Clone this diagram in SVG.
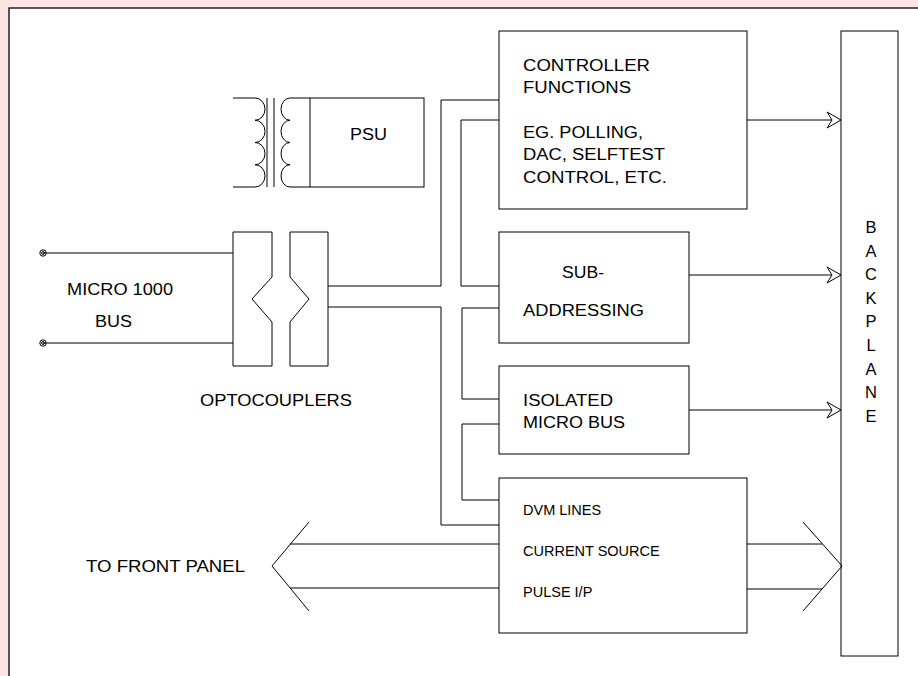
<svg xmlns="http://www.w3.org/2000/svg" width="918" height="676" viewBox="0 0 918 676">
<style>
.ln{fill:none;stroke:#000;stroke-width:1}
.bx{fill:#fff;stroke:#000;stroke-width:1}
.t{font-family:"Liberation Sans",Arial,sans-serif;font-size:16px;fill:#000}
.s{font-size:14.5px}
.bp{font-family:"Liberation Sans",Arial,sans-serif;font-size:16.5px;fill:#000;text-anchor:middle}
</style>
<defs>
<marker id="oa" markerUnits="userSpaceOnUse" markerWidth="18" markerHeight="20" refX="15" refY="9" orient="auto" viewBox="0 0 18 20">
<path d="M1,1 L15,9 L1,17 L6,9 Z" fill="#fff" stroke="#000" stroke-width="1"/>
</marker>
</defs>
<rect x="0" y="0" width="918" height="676" fill="#fde3e4"/>
<rect x="9" y="8" width="909" height="668" fill="#fff"/>
<path d="M9,676 V8 H918" fill="none" stroke="#222" stroke-width="1.5"/>

<g id="transformer">
<path class="ln" d="M233,98 H255 A10,11.125 0 0 1 255,120.25 A10,11.125 0 0 1 255,142.5 A10,11.125 0 0 1 255,164.75 A10,11.125 0 0 1 255,187 H233"/>
<line class="ln" x1="267" y1="98" x2="267" y2="187"/>
<line class="ln" x1="274" y1="98" x2="274" y2="187"/>
<path class="ln" d="M310,98 H290 A9,11.125 0 0 0 290,120.25 A9,11.125 0 0 0 290,142.5 A9,11.125 0 0 0 290,164.75 A9,11.125 0 0 0 290,187 H310"/>
</g>
<g id="psu">
<rect class="bx" x="310" y="98" width="114" height="89"/>
<text class="t" x="350" y="140" textLength="37" lengthAdjust="spacingAndGlyphs">PSU</text>
</g>

<g id="bus-input">
<circle cx="43" cy="253" r="3.2" class="ln"/><circle cx="43" cy="253" r="1.4" class="ln"/>
<circle cx="43" cy="343" r="3.2" class="ln"/><circle cx="43" cy="343" r="1.4" class="ln"/>
<text class="t" x="67" y="295" textLength="106" lengthAdjust="spacingAndGlyphs">MICRO 1000</text>
<text class="t" x="95" y="327" textLength="37" lengthAdjust="spacingAndGlyphs">BUS</text>
</g>

<g id="optocouplers">
<path class="bx" d="M233,232 H272 V277 L252,299 L272,322 V366 H233 Z"/>
<path class="bx" d="M290,232 H328 V366 H290 V322 L309,299 L290,277 Z"/>
<text class="t" x="200" y="406" textLength="152" lengthAdjust="spacingAndGlyphs">OPTOCOUPLERS</text>
</g>

<g id="controller">
<rect class="bx" x="499" y="31" width="248" height="178"/>
<text class="t" x="523" y="71" textLength="127" lengthAdjust="spacingAndGlyphs">CONTROLLER</text>
<text class="t" x="523" y="93" textLength="108" lengthAdjust="spacingAndGlyphs">FUNCTIONS</text>
<text class="t" x="523" y="138" textLength="120" lengthAdjust="spacingAndGlyphs">EG. POLLING,</text>
<text class="t" x="523" y="160" textLength="142" lengthAdjust="spacingAndGlyphs">DAC, SELFTEST</text>
<text class="t" x="523" y="183" textLength="144" lengthAdjust="spacingAndGlyphs">CONTROL, ETC.</text>
</g>

<g id="subaddressing">
<rect class="bx" x="499" y="232" width="190" height="111"/>
<text class="t" x="562" y="278" textLength="42" lengthAdjust="spacingAndGlyphs">SUB-</text>
<text class="t" x="523" y="316" textLength="121" lengthAdjust="spacingAndGlyphs">ADDRESSING</text>
</g>

<g id="isolated">
<rect class="bx" x="499" y="366" width="190" height="88"/>
<text class="t" x="523" y="406" textLength="90" lengthAdjust="spacingAndGlyphs">ISOLATED</text>
<text class="t" x="523" y="428" textLength="102" lengthAdjust="spacingAndGlyphs">MICRO BUS</text>
</g>

<g id="dvm">
<rect class="bx" x="499" y="478" width="248" height="155"/>
<text class="t s" x="523" y="515">DVM LINES</text>
<text class="t s" x="523" y="556">CURRENT SOURCE</text>
<text class="t s" x="523" y="597">PULSE I/P</text>
</g>

<g id="backplane">
<rect class="bx" x="841" y="31" width="57" height="625"/>
<text class="bp" x="871" y="233">B</text>
<text class="bp" x="871" y="256.6">A</text>
<text class="bp" x="871" y="280.2">C</text>
<text class="bp" x="871" y="303.8">K</text>
<text class="bp" x="871" y="327.4">P</text>
<text class="bp" x="871" y="351">L</text>
<text class="bp" x="871" y="374.6">A</text>
<text class="bp" x="871" y="398.2">N</text>
<text class="bp" x="871" y="421.8">E</text>
</g>

<g id="front-panel-label">
<text class="t" x="86" y="572" textLength="159" lengthAdjust="spacingAndGlyphs">TO FRONT PANEL</text>
</g>

<g id="connectors">
<line class="ln" x1="43" y1="253" x2="233" y2="253"/>
<line class="ln" x1="43" y1="343" x2="233" y2="343"/>
<path class="ln" d="M328,286 H441 V100 H499"/>
<path class="ln" d="M499,120 H461 V286 H499"/>
<path class="ln" d="M328,307 H441 V525 H499"/>
<path class="ln" d="M499,308 H462 V399 H499"/>
<path class="ln" d="M499,424 H462 V500 H499"/>
<line class="ln" x1="747" y1="120" x2="841" y2="120" marker-end="url(#oa)"/>
<line class="ln" x1="689" y1="275" x2="841" y2="275" marker-end="url(#oa)"/>
<line class="ln" x1="689" y1="410" x2="841" y2="410" marker-end="url(#oa)"/>
<path class="ln" d="M499,544 H290 M499,588 H290 M309,522 L272,566 L309,611"/>
<path class="ln" d="M747,544 H822 M747,589 H822 M803,522 L842,566 L803,611"/>
</g>
</svg>
